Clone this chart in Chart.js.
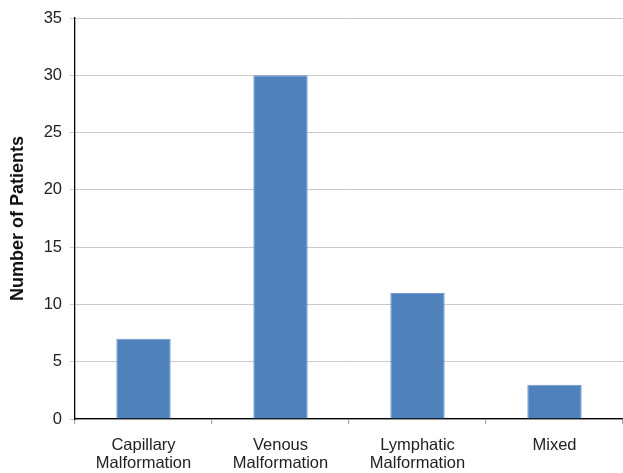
<!DOCTYPE html>
<html>
<head>
<meta charset="utf-8">
<script src="https://cdn.jsdelivr.net/npm/chart.js@4/dist/chart.umd.min.js"></script>
<style>
  html, body { margin: 0; padding: 0; background: #fff; }
  #wrap { width: 623px; height: 473px; }
</style>
</head>
<body>
<div id="wrap"><canvas id="c" width="623" height="473"></canvas></div>
<script>
// Patients per vascular malformation type
const categories = [
  ["Capillary", "Malformation"],
  ["Venous", "Malformation"],
  ["Lymphatic", "Malformation"],
  "Mixed"
];
const patients = [7, 30, 11, 3];
const yTicks = { min: 0, max: 35, step: 5 };
const yTitle = "Number of Patients";

const FONT = "'Liberation Sans', Arial, Helvetica, sans-serif";

new Chart(document.getElementById("c"), {
  type: "bar",
  data: {
    labels: categories,
    datasets: [{
      data: patients,
      backgroundColor: "#4F81BD",
      borderColor: "#7098CA",
      borderWidth: 1,
      borderSkipped: "bottom",
      categoryPercentage: 1,
      barPercentage: 0.397
    }]
  },
  options: {
    responsive: false,
    animation: false,
    devicePixelRatio: 1,
    layout: { padding: { top: 18, right: 0, left: 0, bottom: 0 } },
    plugins: {
      legend: { display: false },
      tooltip: { enabled: false }
    },
    scales: {
      x: {
        offset: true,
        afterFit: s => { s.height = 54; },
        border: { display: true, color: "#000", width: 1.3 },
        grid: {
          offset: true,
          drawOnChartArea: false,
          drawTicks: true,
          tickLength: 5,
          color: "#a8a8a8",
          lineWidth: 1.2
        },
        ticks: {
          padding: 12,
          color: "#222",
          maxRotation: 0,
          autoSkip: false,
          font: { family: FONT, size: 16.5, lineHeight: 1.1 }
        }
      },
      y: {
        min: yTicks.min,
        max: yTicks.max,
        afterFit: s => { s.width = 75; },
        border: { display: true, color: "#000", width: 1.3 },
        grid: {
          color: "#cacaca",
          lineWidth: 1,
          drawTicks: true,
          tickLength: 5
        },
        ticks: {
          stepSize: yTicks.step,
          padding: 8,
          color: "#222",
          font: { family: FONT, size: 16.5 }
        },
        title: {
          display: true,
          text: yTitle,
          color: "#111",
          padding: { top: 7, bottom: 0 },
          font: { family: FONT, size: 18, weight: "bold" }
        }
      }
    }
  }
});
</script>
</body>
</html>
